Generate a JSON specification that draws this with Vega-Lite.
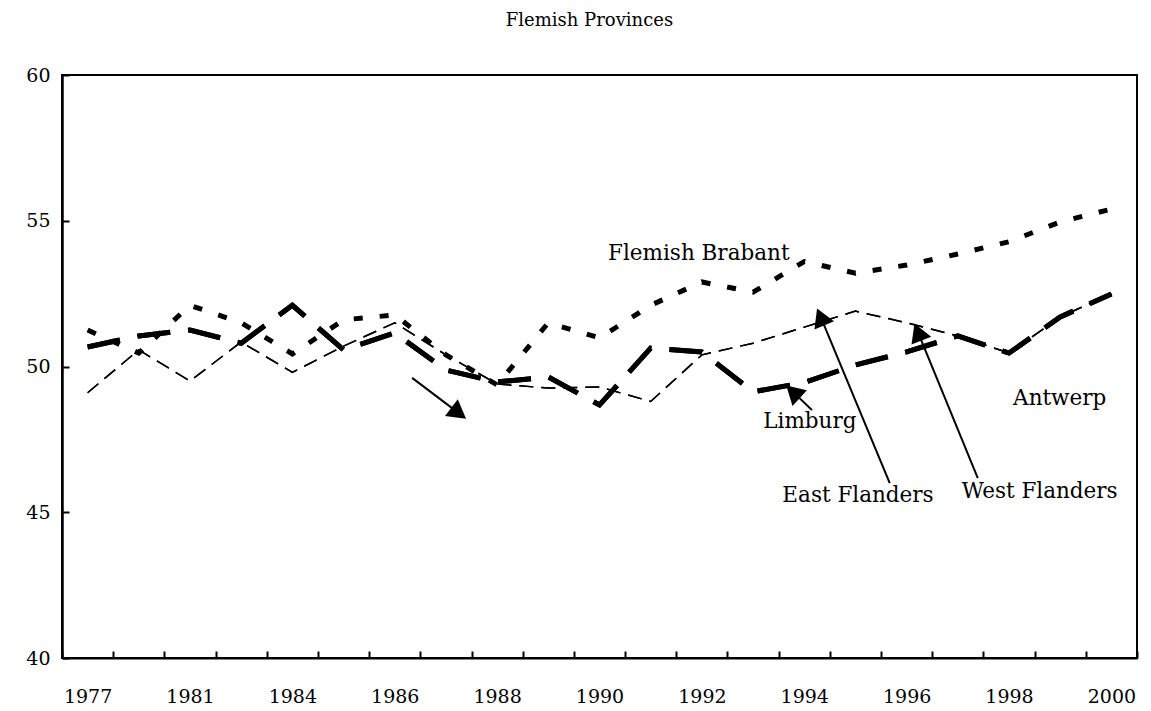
{
  "$schema": "https://vega.github.io/schema/vega-lite/v6.json",
  "autosize": "none",
  "width": 1075,
  "height": 583,
  "padding": {"left": 62, "top": 75, "right": 14, "bottom": 53},
  "background": "white",
  "config": {
    "view": {"stroke": "black", "strokeWidth": 2},
    "font": "DejaVu Serif",
    "axis": {"domainColor": "black", "tickColor": "black", "labelColor": "black", "labelFont": "DejaVu Serif", "labelFontSize": 19, "grid": false}
  },
  "title": {"text": "Flemish Provinces", "font": "DejaVu Serif", "fontSize": 18, "fontWeight": "normal", "color": "black", "offset": 36, "dx": -10},
  "datasets": {
    "series": [
      {"year": "1977", "province": "Flemish Brabant", "share": 51.25},
      {"year": "1979", "province": "Flemish Brabant", "share": 50.46},
      {"year": "1981", "province": "Flemish Brabant", "share": 52.1},
      {"year": "1983", "province": "Flemish Brabant", "share": 51.5},
      {"year": "1984", "province": "Flemish Brabant", "share": 50.43},
      {"year": "1985", "province": "Flemish Brabant", "share": 51.6},
      {"year": "1986", "province": "Flemish Brabant", "share": 51.77},
      {"year": "1987", "province": "Flemish Brabant", "share": 50.4},
      {"year": "1988", "province": "Flemish Brabant", "share": 49.37},
      {"year": "1989", "province": "Flemish Brabant", "share": 51.5},
      {"year": "1990", "province": "Flemish Brabant", "share": 50.98},
      {"year": "1991", "province": "Flemish Brabant", "share": 52.1},
      {"year": "1992", "province": "Flemish Brabant", "share": 52.9},
      {"year": "1993", "province": "Flemish Brabant", "share": 52.55},
      {"year": "1994", "province": "Flemish Brabant", "share": 53.6},
      {"year": "1995", "province": "Flemish Brabant", "share": 53.2},
      {"year": "1996", "province": "Flemish Brabant", "share": 53.48},
      {"year": "1997", "province": "Flemish Brabant", "share": 53.86},
      {"year": "1998", "province": "Flemish Brabant", "share": 54.28},
      {"year": "1999", "province": "Flemish Brabant", "share": 54.96},
      {"year": "2000", "province": "Flemish Brabant", "share": 55.4},

      {"year": "1977", "province": "Antwerp", "share": 50.67},
      {"year": "1979", "province": "Antwerp", "share": 51.05},
      {"year": "1981", "province": "Antwerp", "share": 51.25},
      {"year": "1983", "province": "Antwerp", "share": 50.8},
      {"year": "1984", "province": "Antwerp", "share": 52.1},
      {"year": "1985", "province": "Antwerp", "share": 50.57},
      {"year": "1986", "province": "Antwerp", "share": 51.15},
      {"year": "1987", "province": "Antwerp", "share": 49.88},
      {"year": "1988", "province": "Antwerp", "share": 49.47},
      {"year": "1989", "province": "Antwerp", "share": 49.64},
      {"year": "1990", "province": "Antwerp", "share": 48.68},
      {"year": "1991", "province": "Antwerp", "share": 50.63},
      {"year": "1992", "province": "Antwerp", "share": 50.5},
      {"year": "1993", "province": "Antwerp", "share": 49.13},
      {"year": "1994", "province": "Antwerp", "share": 49.45},
      {"year": "1995", "province": "Antwerp", "share": 50.05},
      {"year": "1996", "province": "Antwerp", "share": 50.5},
      {"year": "1997", "province": "Antwerp", "share": 51.05},
      {"year": "1998", "province": "Antwerp", "share": 50.46},
      {"year": "1999", "province": "Antwerp", "share": 51.7},
      {"year": "2000", "province": "Antwerp", "share": 52.49},

      {"year": "1977", "province": "Limburg", "share": 50.67},
      {"year": "1979", "province": "Limburg", "share": 51.05},
      {"year": "1981", "province": "Limburg", "share": 51.25},
      {"year": "1983", "province": "Limburg", "share": 50.8},
      {"year": "1984", "province": "Limburg", "share": 52.1},
      {"year": "1985", "province": "Limburg", "share": 50.57},
      {"year": "1986", "province": "Limburg", "share": 51.15},
      {"year": "1987", "province": "Limburg", "share": 49.88},
      {"year": "1988", "province": "Limburg", "share": 49.47},
      {"year": "1989", "province": "Limburg", "share": 49.64},
      {"year": "1990", "province": "Limburg", "share": 48.68},
      {"year": "1991", "province": "Limburg", "share": 50.63},
      {"year": "1992", "province": "Limburg", "share": 50.5},
      {"year": "1993", "province": "Limburg", "share": 49.13},
      {"year": "1994", "province": "Limburg", "share": 49.45},
      {"year": "1995", "province": "Limburg", "share": 50.05},
      {"year": "1996", "province": "Limburg", "share": 50.5},
      {"year": "1997", "province": "Limburg", "share": 51.05},
      {"year": "1998", "province": "Limburg", "share": 50.46},
      {"year": "1999", "province": "Limburg", "share": 51.7},
      {"year": "2000", "province": "Limburg", "share": 52.49},

      {"year": "1977", "province": "East Flanders", "share": 49.1},
      {"year": "1979", "province": "East Flanders", "share": 50.57},
      {"year": "1981", "province": "East Flanders", "share": 49.5},
      {"year": "1983", "province": "East Flanders", "share": 50.84},
      {"year": "1984", "province": "East Flanders", "share": 49.8},
      {"year": "1985", "province": "East Flanders", "share": 50.7},
      {"year": "1986", "province": "East Flanders", "share": 51.5},
      {"year": "1987", "province": "East Flanders", "share": 50.4},
      {"year": "1988", "province": "East Flanders", "share": 49.4},
      {"year": "1989", "province": "East Flanders", "share": 49.26},
      {"year": "1990", "province": "East Flanders", "share": 49.3},
      {"year": "1991", "province": "East Flanders", "share": 48.8},
      {"year": "1992", "province": "East Flanders", "share": 50.4},
      {"year": "1993", "province": "East Flanders", "share": 50.8},
      {"year": "1994", "province": "East Flanders", "share": 51.35},
      {"year": "1995", "province": "East Flanders", "share": 51.9},
      {"year": "1996", "province": "East Flanders", "share": 51.5},
      {"year": "1997", "province": "East Flanders", "share": 51.05},
      {"year": "1998", "province": "East Flanders", "share": 50.46},
      {"year": "1999", "province": "East Flanders", "share": 51.7},
      {"year": "2000", "province": "East Flanders", "share": 52.49},

      {"year": "1977", "province": "West Flanders", "share": 49.1},
      {"year": "1979", "province": "West Flanders", "share": 50.57},
      {"year": "1981", "province": "West Flanders", "share": 49.5},
      {"year": "1983", "province": "West Flanders", "share": 50.84},
      {"year": "1984", "province": "West Flanders", "share": 49.8},
      {"year": "1985", "province": "West Flanders", "share": 50.7},
      {"year": "1986", "province": "West Flanders", "share": 51.5},
      {"year": "1987", "province": "West Flanders", "share": 50.4},
      {"year": "1988", "province": "West Flanders", "share": 49.4},
      {"year": "1989", "province": "West Flanders", "share": 49.26},
      {"year": "1990", "province": "West Flanders", "share": 49.3},
      {"year": "1991", "province": "West Flanders", "share": 48.8},
      {"year": "1992", "province": "West Flanders", "share": 50.4},
      {"year": "1993", "province": "West Flanders", "share": 50.8},
      {"year": "1994", "province": "West Flanders", "share": 51.35},
      {"year": "1995", "province": "West Flanders", "share": 51.9},
      {"year": "1996", "province": "West Flanders", "share": 51.5},
      {"year": "1997", "province": "West Flanders", "share": 51.05},
      {"year": "1998", "province": "West Flanders", "share": 50.46},
      {"year": "1999", "province": "West Flanders", "share": 51.7},
      {"year": "2000", "province": "West Flanders", "share": 52.49}
    ],
    "labels": [
      {"text": "Flemish Brabant", "pos": 11.94, "value": 53.65},
      {"text": "Limburg", "pos": 14.11, "value": 47.89},
      {"text": "East Flanders", "pos": 15.05, "value": 45.35},
      {"text": "West Flanders", "pos": 18.6, "value": 45.49},
      {"text": "Antwerp", "pos": 18.99, "value": 48.68}
    ],
    "arrows": [
      {"name": "unlabeled", "pos": 6.34, "value": 49.61, "pos2": 7.25, "value2": 48.4},
      {"name": "Limburg", "pos": 14.15, "value": 48.51, "pos2": 13.78, "value2": 49.13},
      {"name": "East Flanders", "pos": 15.67, "value": 46.0, "pos2": 14.32, "value2": 51.7},
      {"name": "West Flanders", "pos": 17.39, "value": 46.17, "pos2": 16.22, "value2": 51.18}
    ]
  },
  "layer": [
    {
      "data": {"name": "series"},
      "encoding": {
        "x": {
          "field": "year", "type": "ordinal",
          "scale": {"type": "band", "paddingInner": 0, "paddingOuter": 0,
            "domain": ["1977","1979","1981","1983","1984","1985","1986","1987","1988","1989","1990","1991","1992","1993","1994","1995","1996","1997","1998","1999","2000"]},
          "axis": {
            "title": null, "tickBand": "extent", "tickSize": -7, "tickWidth": 2, "domainWidth": 2,
            "labelPadding": 36, "labelAngle": 0, "labelOverlap": false, "labelBound": false, "labelFlush": false,
            "labelExpr": "indexof(['1977','1981','1984','1986','1988','1990','1992','1994','1996','1998','2000'], datum.label) >= 0 ? datum.label : ''"
          }
        },
        "y": {
          "field": "share", "type": "quantitative",
          "scale": {"domain": [40, 60], "nice": false, "zero": false},
          "axis": {"title": null, "values": [40, 45, 50, 55, 60], "tickSize": -7, "tickWidth": 2, "domainWidth": 2.5, "labelPadding": 19, "labelFlush": false, "labelBound": false, "labelOverlap": false}
        },
        "detail": {"field": "province", "type": "nominal"}
      },
      "layer": [
        {
          "transform": [{"filter": "datum.province == 'Flemish Brabant'"}],
          "mark": {"type": "line", "color": "black", "strokeWidth": 5, "strokeDash": [9, 17], "strokeCap": "butt"}
        },
        {
          "transform": [{"filter": "datum.province == 'Antwerp' || datum.province == 'Limburg'"}],
          "mark": {"type": "line", "color": "black", "strokeWidth": 5, "strokeDash": [33, 18], "strokeCap": "butt", "strokeJoin": "miter"}
        },
        {
          "transform": [{"filter": "datum.province == 'East Flanders' || datum.province == 'West Flanders'"}],
          "mark": {"type": "line", "color": "black", "strokeWidth": 1.5, "strokeDash": [14, 8], "strokeCap": "butt"}
        }
      ]
    },
    {
      "encoding": {
        "x": {"field": "pos", "type": "quantitative", "scale": {"domain": [-0.5, 20.5], "nice": false, "zero": false}, "axis": null},
        "y": {"field": "value", "type": "quantitative",
          "axis": {"title": null, "values": [40, 45, 50, 55, 60], "tickSize": -7, "tickWidth": 2, "domainWidth": 2.5, "labelPadding": 19, "labelFlush": false, "labelBound": false, "labelOverlap": false}}
      },
      "layer": [
        {
          "data": {"name": "arrows"},
          "mark": {"type": "rule", "color": "black", "strokeWidth": 2},
          "encoding": {
            "x2": {"field": "pos2"},
            "y2": {"field": "value2"}
          }
        },
        {
          "data": {"name": "arrows"},
          "transform": [{"filter": "datum.name == 'unlabeled'"}],
          "mark": {"type": "point", "shape": "triangle-up", "filled": true, "color": "black", "opacity": 1, "size": 450, "angle": 127},
          "encoding": {"x": {"field": "pos2", "type": "quantitative"}, "y": {"field": "value2", "type": "quantitative"}}
        },
        {
          "data": {"name": "arrows"},
          "transform": [{"filter": "datum.name == 'Limburg'"}],
          "mark": {"type": "point", "shape": "triangle-up", "filled": true, "color": "black", "opacity": 1, "size": 450, "angle": 313},
          "encoding": {"x": {"field": "pos2", "type": "quantitative"}, "y": {"field": "value2", "type": "quantitative"}}
        },
        {
          "data": {"name": "arrows"},
          "transform": [{"filter": "datum.name == 'East Flanders'"}],
          "mark": {"type": "point", "shape": "triangle-up", "filled": true, "color": "black", "opacity": 1, "size": 450, "angle": 337},
          "encoding": {"x": {"field": "pos2", "type": "quantitative"}, "y": {"field": "value2", "type": "quantitative"}}
        },
        {
          "data": {"name": "arrows"},
          "transform": [{"filter": "datum.name == 'West Flanders'"}],
          "mark": {"type": "point", "shape": "triangle-up", "filled": true, "color": "black", "opacity": 1, "size": 450, "angle": 338},
          "encoding": {"x": {"field": "pos2", "type": "quantitative"}, "y": {"field": "value2", "type": "quantitative"}}
        },
        {
          "data": {"name": "labels"},
          "mark": {"type": "text", "font": "DejaVu Serif", "fontSize": 21.5, "color": "black", "align": "center", "baseline": "alphabetic"},
          "encoding": {"text": {"field": "text"}}
        }
      ]
    }
  ],
  "resolve": {"scale": {"x": "independent"}}
}
